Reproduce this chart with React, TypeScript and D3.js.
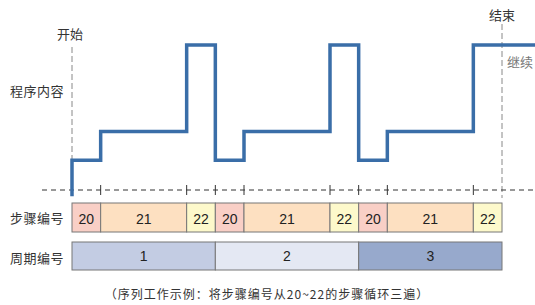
import React from 'react';
import * as d3 from 'd3';

// steps in one cycle, their durations (time units) and the level of program content
const stepNumbers = [20, 21, 22, 20, 21, 22, 20, 21, 22];
const stepDurations = [1, 3, 1, 1, 3, 1, 1, 3, 1];
const stepLevels = [1, 2, 5, 1, 2, 5, 1, 2, 5];
const cycleLabels = ['1', '2', '3'];
const cycleSpans = [5, 5, 5];
const startLevel = -0.25;
const continueUnits = 1.2;

const stepColors: Record<number, string> = {20: '#f9cfc6', 21: '#fde0c1', 22: '#fdf9cb'};
const cycleColors = ['#c3cce3', '#e4e8f3', '#97a9cc'];

const font = '"Noto Sans CJK SC", "Noto Sans", sans-serif';
const numFont = '"Liberation Sans", Arial, sans-serif';

const App = () => {
  const total = d3.sum(stepDurations);
  const x = d3.scaleLinear().domain([0, total]).range([72, 502]);
  const y = d3.scaleLinear().domain([0, 5]).range([189, 45]);

  const starts = stepDurations.map((_, i) => d3.sum(stepDurations.slice(0, i)));
  const cycleStarts = cycleSpans.map((_, i) => d3.sum(cycleSpans.slice(0, i)));

  const pts: [number, number][] = [[0, startLevel]];
  stepLevels.forEach((lv, i) => pts.push([starts[i], lv]));
  pts.push([total + continueUnits, stepLevels[stepLevels.length - 1]]);

  const line = d3.line<[number, number]>()
    .x(d => x(d[0]))
    .y(d => y(d[1]))
    .curve(d3.curveStepAfter);

  const baseY = 190;
  const rowTop = 203, rowH = 29;
  const cycTop = 242, cycH = 28;

  return (
    <svg width={535} height={305} style={{position: 'absolute', left: 0, top: 0}} fontFamily={font}>
      {/* start / end guides */}
      <line x1={x(0)} x2={x(0)} y1={47} y2={baseY} stroke="#888" strokeDasharray="6,3" strokeWidth={1} />
      <line x1={x(total)} x2={x(total)} y1={24} y2={198} stroke="#888" strokeDasharray="6,3" strokeWidth={1} />
      <text x={70} y={33} textAnchor="middle" dominantBaseline="central" fontSize={13} fill="#333">开始</text>
      <text x={x(total)} y={14} textAnchor="middle" dominantBaseline="central" fontSize={13} fill="#333">结束</text>
      <text x={507} y={61} dominantBaseline="central" fontSize={13} fill="#777">继续</text>

      {/* baseline */}
      <line x1={42} x2={535} y1={baseY} y2={baseY} stroke="#333" strokeDasharray="5,4" strokeWidth={1} />
      {starts.slice(1).map((s, i) => (
        <line key={i} x1={x(s)} x2={x(s)} y1={baseY - 5} y2={baseY + 5} stroke="#333" strokeWidth={1} />
      ))}

      <path d={line(pts) || ''} fill="none" stroke="#3a6ea8" strokeWidth={3.5} />

      {/* row labels */}
      <text x={10} y={90} dominantBaseline="central" fontSize={13} letterSpacing={0.5} fill="#333">程序内容</text>
      <text x={10} y={217} dominantBaseline="central" fontSize={13} letterSpacing={0.5} fill="#333">步骤编号</text>
      <text x={10} y={257} dominantBaseline="central" fontSize={13} letterSpacing={0.5} fill="#333">周期编号</text>

      {/* step row */}
      {stepNumbers.map((n, i) => (
        <g key={i}>
          <rect x={x(starts[i])} y={rowTop} width={x(starts[i] + stepDurations[i]) - x(starts[i])} height={rowH}
            fill={stepColors[n]} stroke="#777" strokeWidth={1} />
          <text x={(x(starts[i]) + x(starts[i] + stepDurations[i])) / 2} y={rowTop + rowH / 2 + 1}
            textAnchor="middle" dominantBaseline="central" fontSize={14} fontFamily={numFont} fill="#222">{n}</text>
        </g>
      ))}

      {/* cycle row */}
      {cycleLabels.map((c, i) => (
        <g key={i}>
          <rect x={x(cycleStarts[i])} y={cycTop} width={x(cycleStarts[i] + cycleSpans[i]) - x(cycleStarts[i])} height={cycH}
            fill={cycleColors[i]} stroke="#777" strokeWidth={1} />
          <text x={(x(cycleStarts[i]) + x(cycleStarts[i] + cycleSpans[i])) / 2} y={cycTop + cycH / 2}
            textAnchor="middle" dominantBaseline="central" fontSize={14} fontFamily={numFont} fill="#222">{c}</text>
        </g>
      ))}

      <text x={267} y={293} textAnchor="middle" dominantBaseline="central" fontSize={12} letterSpacing={1} fill="#333">（序列工作示例：将步骤编号从20~22的步骤循环三遍）</text>
    </svg>
  );
};

export default App;
